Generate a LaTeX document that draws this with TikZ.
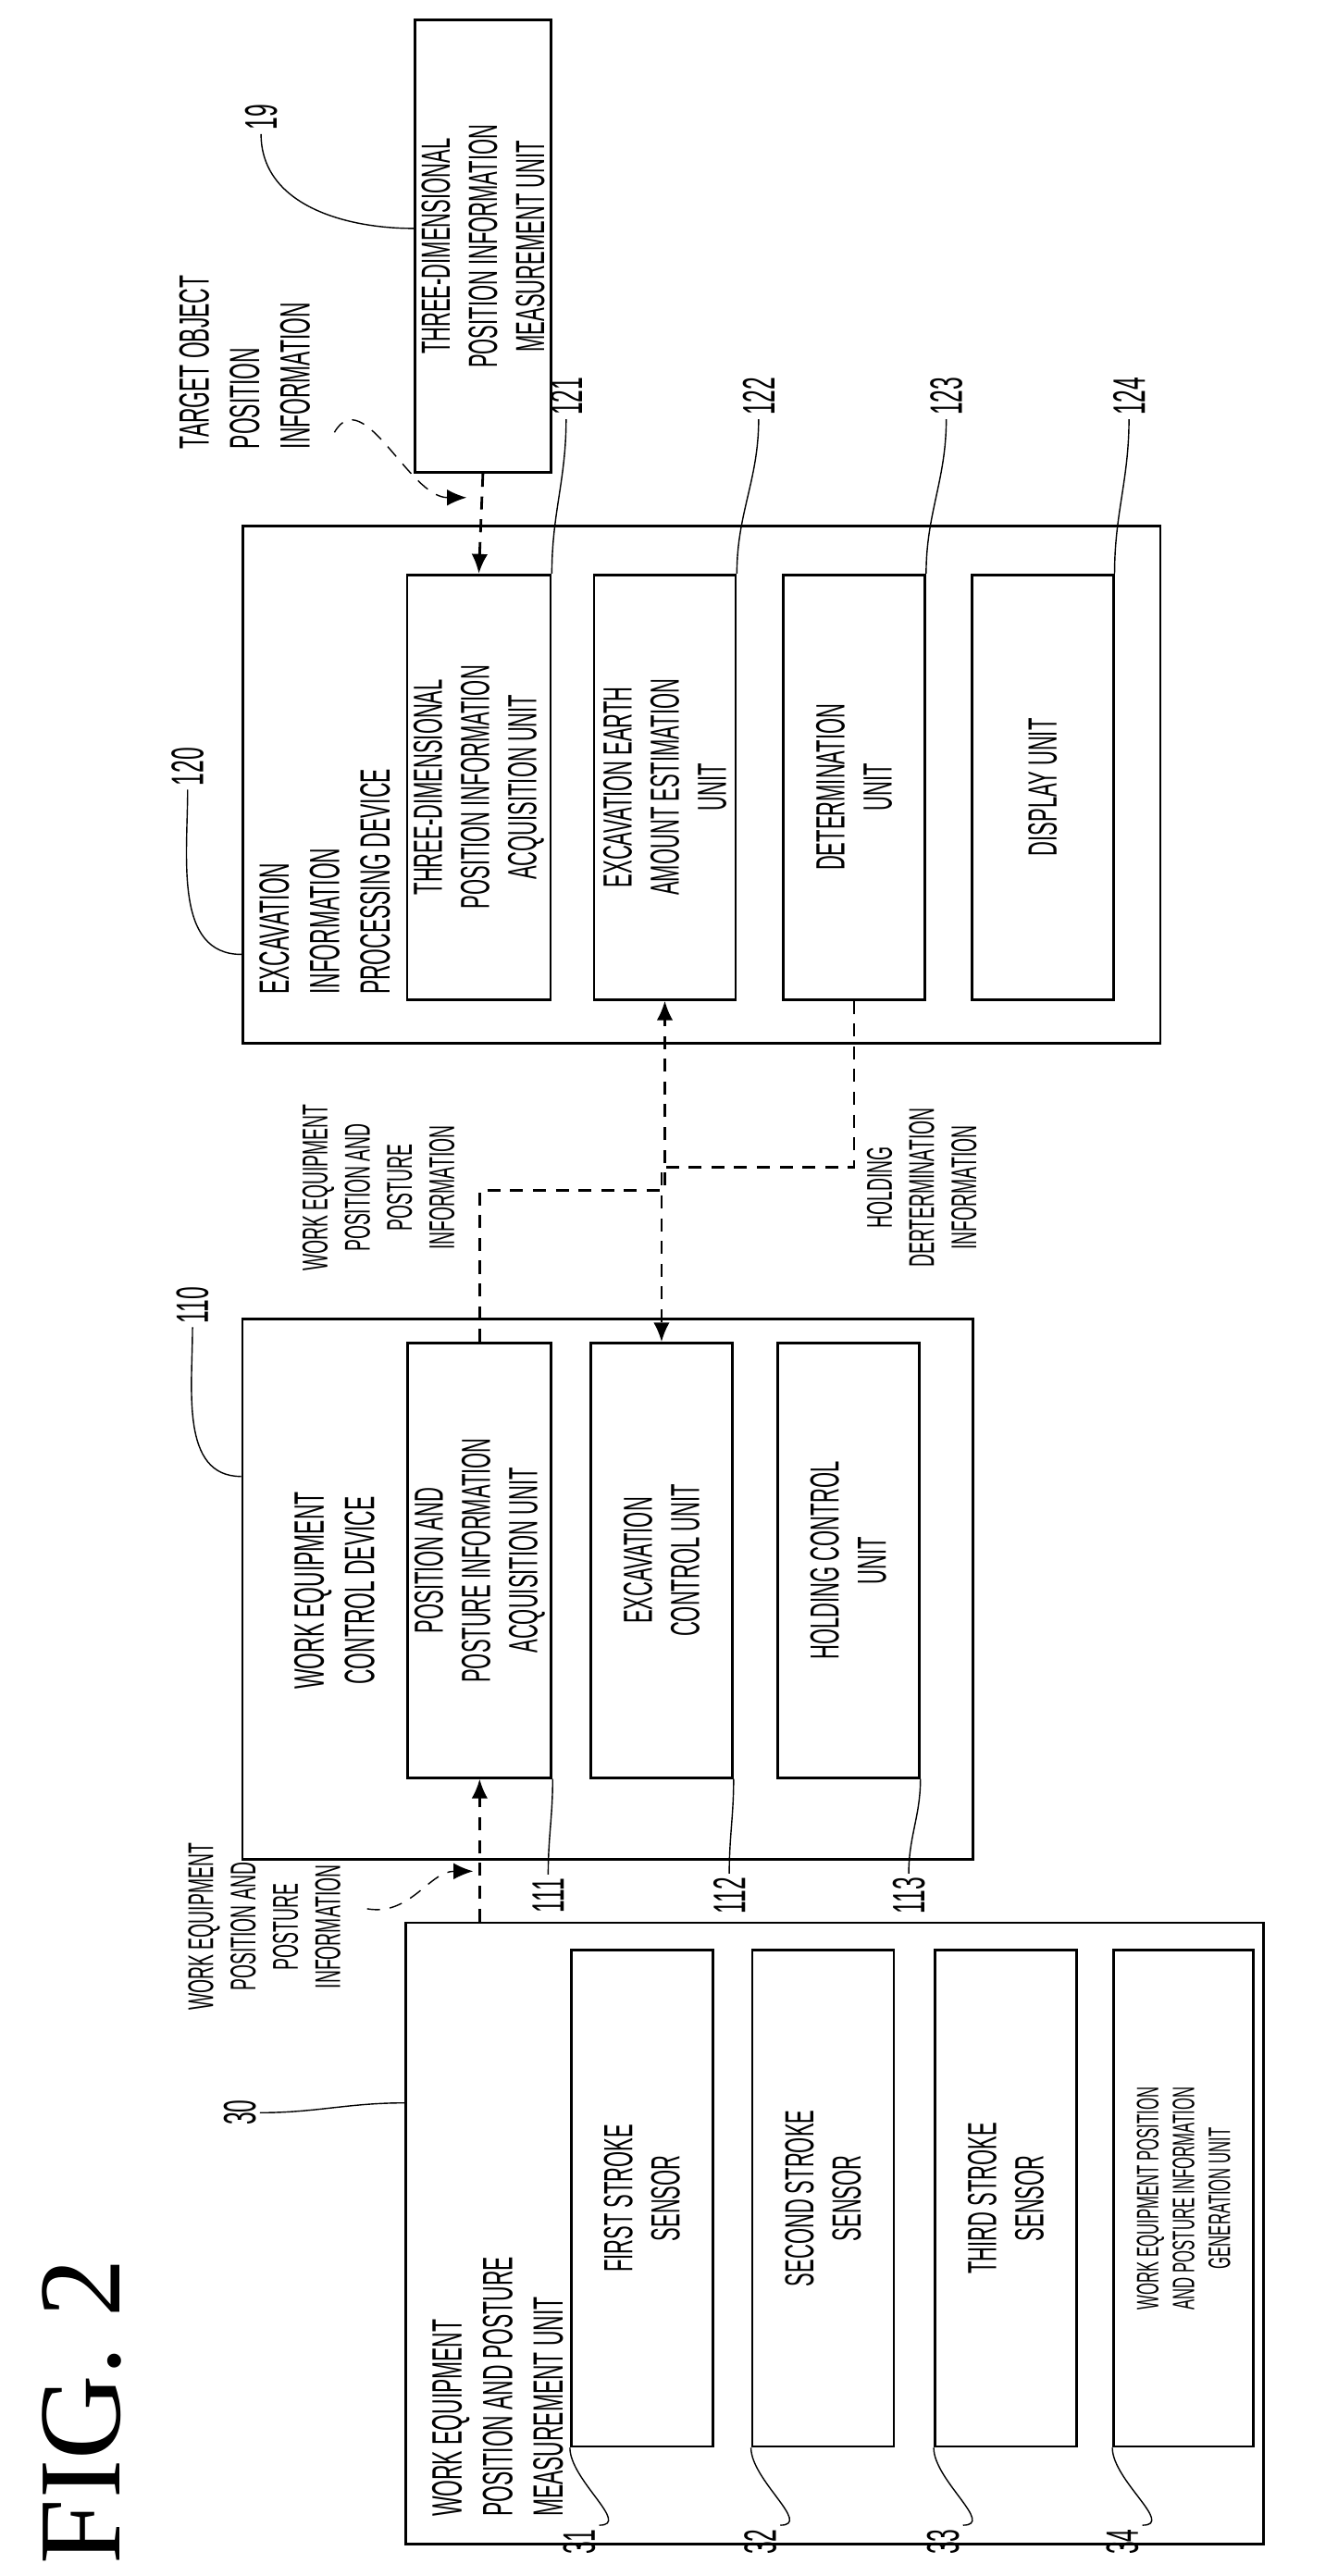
\documentclass[tikz,border=0pt]{standalone}
\usepackage{fontspec}
\setmainfont{Liberation Serif}
\newfontfamily\gfont[FakeStretch=0.5]{Liberation Sans}
\usetikzlibrary{arrows.meta, positioning, calc}

\tikzset{
  box/.style={draw, thick, rotate=90, align=center, inner sep=2pt, font=\gfont\fontsize{12.5}{14.5}\selectfont},
  txt/.style={rotate=90, inner sep=1pt, font=\gfont\fontsize{13}{15.5}\selectfont},
  small/.style={rotate=90, inner sep=1pt, font=\gfont\fontsize{11}{13}\selectfont},
  num/.style={rotate=90, inner sep=1pt, font=\gfont\fontsize{14}{15}\selectfont},
  flow/.style={thick, dash pattern=on 4pt off 3pt, -{Latex[length=6pt,width=5pt]}},
  lead/.style={thin}
}

\begin{document}
\begin{tikzpicture}[x=0.01763cm, y=-0.01763cm]
  \useasboundingbox (0,0) rectangle (820,1579);

  % measurement unit
  \node[box, minimum width=191pt, minimum height=263.5pt] (n30) at (511.5,1369) {};
  \node[txt, anchor=west, align=left] (t30) at (305,1545) {WORK EQUIPMENT\\POSITION AND POSTURE\\MEASUREMENT UNIT};
  \node[box, minimum width=152.5pt, minimum height=43.5pt] (n31) at (393.5,1347.5) {FIRST STROKE\\SENSOR};
  \node[box, minimum width=152.5pt, minimum height=43.5pt] (n32) at (504.5,1347.5) {SECOND STROKE\\SENSOR};
  \node[box, minimum width=152.5pt, minimum height=43.5pt] (n33) at (616.5,1347.5) {THIRD STROKE\\SENSOR};
  \node[box, minimum width=152.5pt, minimum height=43pt, font=\gfont\fontsize{9.5}{11}\selectfont] (n34) at (725.5,1347.5) {WORK EQUIPMENT POSITION\\AND POSTURE INFORMATION\\GENERATION UNIT};

  % control device
  \node[box, minimum width=166pt, minimum height=224.5pt] (n110) at (372.5,974) {};
  \node[txt, align=center] (t110) at (205,975) {WORK EQUIPMENT\\CONTROL DEVICE};
  \node[box, minimum width=133.5pt, minimum height=43.5pt] (n111) at (294,956.5) {POSITION AND\\POSTURE INFORMATION\\ACQUISITION UNIT};
  \node[box, minimum width=133.5pt, minimum height=43.5pt] (n112) at (405.5,956.5) {EXCAVATION\\CONTROL UNIT};
  \node[box, minimum width=133.5pt, minimum height=43.5pt] (n113) at (520,956.5) {HOLDING CONTROL\\UNIT};

  % processing device
  \node[box, minimum width=159pt, minimum height=282pt] (n120) at (430,481) {};
  \node[txt, anchor=west, align=left] (t120) at (199,612) {EXCAVATION\\INFORMATION\\PROCESSING DEVICE};
  \node[box, minimum width=130.5pt, minimum height=43.5pt] (n121) at (293.5,482.5) {THREE-DIMENSIONAL\\POSITION INFORMATION\\ACQUISITION UNIT};
  \node[box, minimum width=130.5pt, minimum height=43.5pt] (n122) at (407.5,482.5) {EXCAVATION EARTH\\AMOUNT ESTIMATION\\UNIT};
  \node[box, minimum width=130.5pt, minimum height=43.5pt] (n123) at (523.5,482.5) {DETERMINATION\\UNIT};
  \node[box, minimum width=130.5pt, minimum height=43.5pt] (n124) at (639,482.5) {DISPLAY UNIT};

  % 3D measurement unit
  \node[box, minimum width=139pt, minimum height=41pt] (n19) at (296,151) {THREE-DIMENSIONAL\\POSITION INFORMATION\\MEASUREMENT UNIT};

  % flows
  \draw[flow] (n30.east -| n111) -- (n111.west);
  \draw[flow] (n111.east) -- ++(0,-93) -| (n122.west);
  \draw[flow] (n123.west) -- ++(0,102) -| (n112.east);
  \draw[flow] (n19.west) -- (n121.east);

  % flow labels
  \node[small, align=center] (i30) at (162,1181) {WORK EQUIPMENT\\POSITION AND\\POSTURE\\INFORMATION};
  \node[small, align=center] (i111) at (232,728) {WORK EQUIPMENT\\POSITION AND\\POSTURE\\INFORMATION};
  \node[small, align=center] (i123) at (565,728) {HOLDING\\DERTERMINATION\\INFORMATION};
  \node[txt, align=left] (i19) at (150,222) {TARGET OBJECT\\POSITION\\INFORMATION};
  \coordinate (c30) at (290,1147);
  \coordinate (c19) at (286,305);
  \coordinate (s30) at (225,1170);
  \coordinate (s19) at (205,265);
  \draw[flow, thin] (s30) to[out=-10, in=180] (c30);
  \draw[flow, thin] (s19) to[out=60, in=180] (c19);

  % reference numerals
  \node[num] (l30) at (147,1295) {30};
  \node[num] (l31) at (355,1558) {31};
  \node[num] (l32) at (466,1558) {32};
  \node[num] (l33) at (578,1558) {33};
  \node[num] (l34) at (688,1558) {34};
  \node[num] (l110) at (118,800) {110};
  \node[num] (l111) at (336,1162) {111};
  \node[num] (l112) at (447,1162) {112};
  \node[num] (l113) at (557,1162) {113};
  \node[num] (l120) at (115,470) {120};
  \node[num] (l121) at (347,243) {121};
  \node[num] (l122) at (465,243) {122};
  \node[num] (l123) at (580,243) {123};
  \node[num] (l124) at (692,243) {124};
  \node[num] (l19) at (160,72) {19};

  \draw[lead] (l30.south) to[out=0, in=180] (n30.north west |- 0,1289);
  \foreach \n in {31,32,33,34}
    \draw[lead] (n\n.north west) to[out=-90, in=0] (l\n.south east);
  \foreach \n in {111,112,113}
    \draw[lead] (n\n.south west) to[out=-90, in=90] (l\n.east);
  \foreach \n in {121,122,123,124}
    \draw[lead] (n\n.south east) to[out=90, in=-90] (l\n.west);
  \draw[lead] (l110.west) to[out=-90, in=180] (n110.north west |- 0,905);
  \draw[lead] (l120.west) to[out=-90, in=180] (n120.north west |- 0,585);
  \draw[lead] (l19.west) to[out=-90, in=180] (n19.north west |- 0,140);

  \node[rotate=90, font=\fontsize{36}{36}\selectfont] (fig) at (50,1478) {FIG.\ 2};
\end{tikzpicture}
\end{document}
